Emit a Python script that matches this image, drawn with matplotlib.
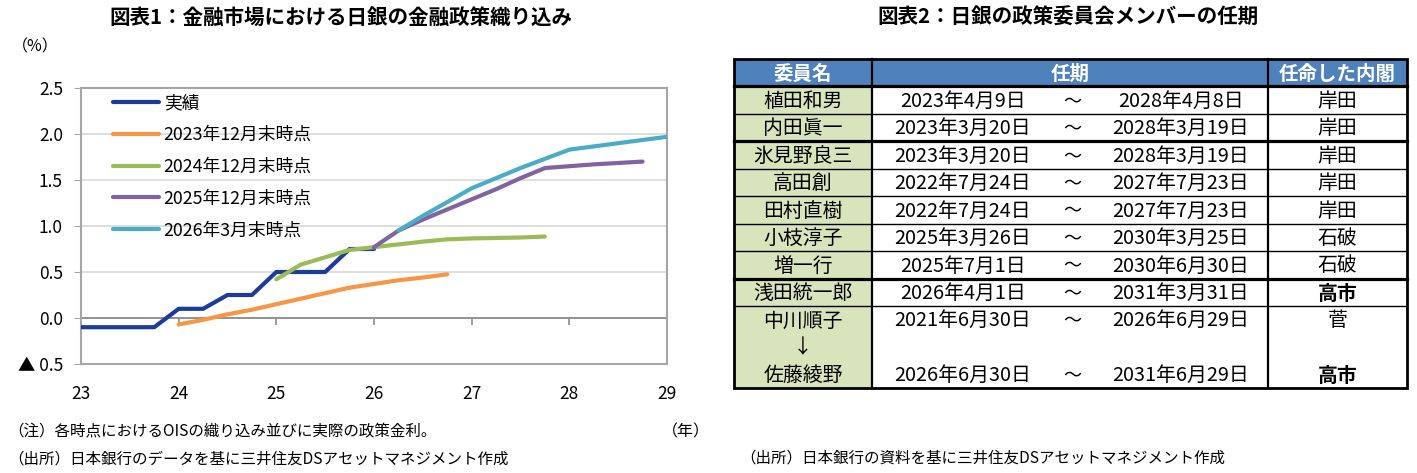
import matplotlib
matplotlib.use("Agg")
import matplotlib.pyplot as plt
import numpy as np

plt.rcParams['font.family'] = ['Noto Sans CJK JP', 'DejaVu Sans']

# ---- chart 1 data (year 23 = 2023, quarterly points) ----
x_actual = [23.0, 23.25, 23.5, 23.75, 24.0, 24.25, 24.5, 24.75, 25.0, 25.25, 25.5, 25.75, 26.0]
actual = [-0.1, -0.1, -0.1, -0.1, 0.1, 0.1, 0.25, 0.25, 0.5, 0.5, 0.5, 0.75, 0.75]

x_2023 = [24.0, 24.25, 24.5, 24.75, 25.0, 25.25, 25.5, 25.75, 26.0, 26.25, 26.5, 26.75]
ois_2023 = [-0.07, -0.02, 0.04, 0.09, 0.15, 0.21, 0.27, 0.33, 0.37, 0.41, 0.44, 0.475]

x_2024 = [25.0, 25.25, 25.5, 25.75, 26.0, 26.25, 26.5, 26.75, 27.0, 27.25, 27.5, 27.75]
ois_2024 = [0.42, 0.58, 0.66, 0.74, 0.77, 0.80, 0.83, 0.855, 0.865, 0.87, 0.875, 0.885]

x_2025 = [26.0, 26.25, 26.5, 26.75, 27.0, 27.25, 27.5, 27.75, 28.0, 28.25, 28.5, 28.75]
ois_2025 = [0.77, 0.95, 1.07, 1.18, 1.29, 1.40, 1.52, 1.63, 1.65, 1.67, 1.685, 1.70]

x_2026 = [26.25, 26.5, 26.75, 27.0, 27.25, 27.5, 27.75, 28.0, 28.25, 28.5, 28.75, 29.0]
ois_2026 = [0.95, 1.11, 1.26, 1.41, 1.52, 1.63, 1.73, 1.83, 1.865, 1.90, 1.935, 1.97]

series_labels = ["実績", "2023年12月末時点", "2024年12月末時点", "2025年12月末時点", "2026年3月末時点"]
series_colors = ["#1b3c9b", "#f79646", "#9bbb59", "#8064a2", "#4bacc6"]

year_ticks = [23, 24, 25, 26, 27, 28, 29]
y_ticks = [-0.5, 0.0, 0.5, 1.0, 1.5, 2.0, 2.5]
y_labels = ["▲ 0.5", "0.0", "0.5", "1.0", "1.5", "2.0", "2.5"]

# ---- table data (one entry per text line) ----
members = ["植田和男", "内田眞一", "氷見野良三", "高田創", "田村直樹", "小枝淳子", "増一行",
           "浅田統一郎", "中川順子", "↓", "佐藤綾野"]
term_start = ["2023年4月9日", "2023年3月20日", "2023年3月20日", "2022年7月24日", "2022年7月24日",
              "2025年3月26日", "2025年7月1日", "2026年4月1日", "2021年6月30日", "", "2026年6月30日"]
term_end = ["2028年4月8日", "2028年3月19日", "2028年3月19日", "2027年7月23日", "2027年7月23日",
            "2030年3月25日", "2030年6月30日", "2031年3月31日", "2026年6月29日", "", "2031年6月29日"]
cabinet = ["岸田", "岸田", "岸田", "岸田", "岸田", "石破", "石破", "高市", "菅", "", "高市"]
cabinet_bold = [False, False, False, False, False, False, False, True, False, False, True]
headers = ["委員名", "任期", "任命した内閣"]
# line under each text line: 1 thin, 2 thick, 0 none
row_rules = [1, 2, 1, 1, 1, 1, 2, 1, 0, 0, 0]

W, H = 1417, 473
fig = plt.figure(figsize=(W / 100, H / 100), dpi=100)

# overlay in pixel coordinates for texts and table
ov = fig.add_axes([0, 0, 1, 1])
ov.set_xlim(0, W)
ov.set_ylim(H, 0)
ov.axis("off")

# ---------------- chart ----------------
ax = fig.add_axes([81 / W, 1 - 364 / H, 586 / W, 276 / H])
ax.set_xlim(23, 29)
ax.set_ylim(-0.5, 2.5)
ax.set_yticks(y_ticks, labels=y_labels)
ax.set_xticks(year_ticks, labels=[str(y) for y in year_ticks])
ax.grid(axis="y", color="#d9d9d9", lw=1.2)
ax.set_axisbelow(True)
ax.axhline(0, color="#8c8c8c", lw=1.3, zorder=1)
for s in ax.spines.values():
    s.set_color("#a6a6a6")
    s.set_linewidth(1.5)
ax.tick_params(axis="y", length=5, color="#a6a6a6", pad=8, labelsize=12.5)
ax.tick_params(axis="x", length=0, pad=15, labelsize=12.5)

sec = ax.secondary_xaxis(1 / 6)
sec.set_xticks(year_ticks, labels=[])
sec.spines["bottom"].set_visible(False)
sec.tick_params(length=5, color="#8c8c8c", width=1.2)

xs = [x_actual, x_2023, x_2024, x_2025, x_2026]
ys = [actual, ois_2023, ois_2024, ois_2025, ois_2026]
for xv, yv, lab, col in zip(xs, ys, series_labels, series_colors):
    ax.plot(xv, yv, color=col, lw=3, label=lab, solid_capstyle="round", zorder=3)

ax.legend(loc="upper left", bbox_to_anchor=((113 - 81) / 586, (364 - 94) / 276),
          frameon=False, borderpad=0, borderaxespad=0, handlelength=2.6,
          handletextpad=0.25, labelspacing=0.78, fontsize=12.8)

ov.text(341, 17, "図表1：金融市場における日銀の金融政策織り込み", ha="center", va="center",
        fontsize=14.8, fontweight="bold")
ov.text(12, 47, "（%）", ha="left", va="center", fontsize=11.5)
ov.text(662, 432, "（年）", ha="left", va="center", fontsize=11.5)
ov.text(8, 432, "（注）各時点におけるOISの織り込み並びに実際の政策金利。", ha="left", va="center", fontsize=11.2)
ov.text(8, 459, "（出所）日本銀行のデータを基に三井住友DSアセットマネジメント作成", ha="left", va="center", fontsize=11.2)

# ---------------- table ----------------
ov.text(1068, 17, "図表2：日銀の政策委員会メンバーの任期", ha="center", va="center",
        fontsize=14.8, fontweight="bold")
ov.text(740, 458, "（出所）日本銀行の資料を基に三井住友DSアセットマネジメント作成", ha="left", va="center", fontsize=11.2)

col_x = [734, 872, 1268, 1407]
top, head_bot, row_h = 59.5, 86.5, 27.45
bottom = head_bot + row_h * len(members)

ov.add_patch(plt.Rectangle((col_x[0], top), col_x[3] - col_x[0], head_bot - top, color="#4f81bd", lw=0))
ov.add_patch(plt.Rectangle((col_x[0], head_bot), col_x[1] - col_x[0], bottom - head_bot, color="#d8e4bc", lw=0))

head_cx = [(col_x[0] + col_x[1]) / 2, (col_x[1] + col_x[2]) / 2, (col_x[2] + col_x[3]) / 2]
for cx, h in zip(head_cx, headers):
    ov.text(cx, (top + head_bot) / 2 + 1, h, ha="center", va="center", color="white",
            fontsize=14, fontweight="bold")

x_start, x_tilde, x_end = 963, 1072, 1181
fs = 14.3
for i in range(len(members)):
    cy = head_bot + row_h * (i + 0.5) + 1
    ov.text(head_cx[0], cy, members[i], ha="center", va="center", fontsize=fs)
    if term_start[i]:
        ov.text(x_start, cy, term_start[i], ha="center", va="center", fontsize=fs)
        ov.text(x_tilde, cy, "～", ha="center", va="center", fontsize=13)
        ov.text(x_end, cy, term_end[i], ha="center", va="center", fontsize=fs)
    ov.text(head_cx[2], cy, cabinet[i], ha="center", va="center", fontsize=fs,
            fontweight="bold" if cabinet_bold[i] else "normal")
    yl = head_bot + row_h * (i + 1)
    if row_rules[i] == 1:
        ov.plot([col_x[0], col_x[3]], [yl, yl], color="black", lw=1.0)
    elif row_rules[i] == 2:
        ov.plot([col_x[0], col_x[3]], [yl, yl], color="black", lw=2.3)

ov.plot([col_x[0], col_x[3]], [head_bot, head_bot], color="black", lw=2.3)
for xv in col_x[1:3]:
    ov.plot([xv, xv], [top, bottom], color="black", lw=1.6)
ov.add_patch(plt.Rectangle((col_x[0], top), col_x[3] - col_x[0], bottom - top,
                           fill=False, ec="black", lw=2.0))

fig.savefig("out.png", dpi=100)
